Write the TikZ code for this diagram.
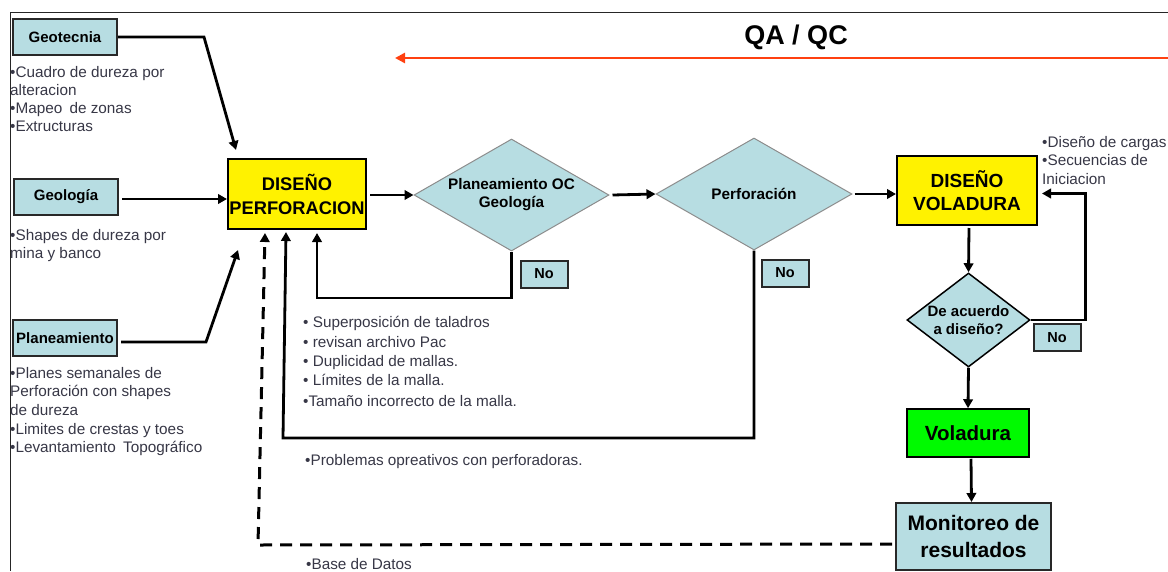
\documentclass[tikz,border=0pt]{standalone}
\usepackage{fontspec}
\setmainfont{Liberation Sans}
\usetikzlibrary{shapes.geometric,arrows.meta,calc}
\definecolor{boxblue}{RGB}{183,221,226}
\definecolor{qared}{RGB}{255,64,16}
\definecolor{listgray}{RGB}{55,55,70}
\definecolor{edgegray}{RGB}{140,140,140}
\definecolor{boxedge}{RGB}{40,40,40}
\definecolor{limegreen}{RGB}{0,250,0}

\begin{document}
\begin{tikzpicture}[x=1pt,y=-1pt,
  srcbox/.style={draw=boxedge, line width=2pt, fill=boxblue, minimum width=104pt,
    minimum height=36pt, inner sep=0pt, font=\fontsize{15}{18}\selectfont\bfseries},
  yellowbox/.style={draw=black, line width=2pt, fill=yellow, inner sep=0pt, align=center},
  decision/.style={diamond, draw=edgegray, line width=1pt, fill=boxblue, inner sep=0pt,
    align=center, font=\fontsize{15.3}{18}\selectfont\bfseries},
  nobox/.style={draw=boxedge, line width=2pt, fill=boxblue, minimum width=47pt,
    minimum height=27pt, inner sep=0pt, font=\fontsize{14.5}{17}\selectfont\bfseries},
  listtext/.style={font=\fontsize{15.3}{18}\selectfont, text=listgray, inner sep=0pt, anchor=base west},
  flow/.style={line width=2.8pt, -{Triangle[length=9pt,width=9.5pt]}},
  loopline/.style={line width=2.8pt, -{Triangle[length=9pt,width=9.5pt]}},
  feedback/.style={line width=3pt, dash pattern=on 12pt off 8pt, -{Triangle[length=9pt,width=9.5pt]}}
]
\useasboundingbox (0,0) rectangle (1168,571);

% outer frame
\draw[line width=1pt, black!85] (1168,12) -- (10,12) -- (10,571);

% QA / QC banner
\node[font=\fontsize{27}{30}\selectfont\bfseries, inner sep=0pt] (qaqc) at (796,37) {QA / QC};
\coordinate (qaright) at (1180,58);
\coordinate (qaleft) at (395,58);
\draw[qared, line width=2.8pt, {Triangle[length=10pt,width=10pt]}-{Triangle[length=10pt,width=10pt]}] (qaright) -- (qaleft);

% input boxes on the left
\node[srcbox] (geot) at (65,37) {Geotecnia};
\node[srcbox] (geol) at (66,197) {Geología};
\node[srcbox] (plan) at (65,338) {Planeamiento};

\foreach \t [count=\i] in {{•Cuadro de dureza por},{alteracion},{•Mapeo\hspace{3pt} de zonas},{•Extructuras}}
  \node[listtext, name=geotx\i] at (10,{77+18.3*(\i-1)}) {\t};
\foreach \t [count=\i] in {{•Shapes de dureza por},{mina y banco}}
  \node[listtext, name=geoltx\i] at (10,{240+18.5*(\i-1)}) {\t};
\foreach \t [count=\i] in {{•Planes semanales de},{Perforación con shapes},{de dureza},{•Limites de crestas y toes},{•Levantamiento\hspace{3pt} Topográfico}}
  \node[listtext, name=plantx\i] at (10,{378+18.7*(\i-1)}) {\t};

% main process
\node[yellowbox, minimum width=138pt, minimum height=70pt,
  font=\fontsize{18.3}{24}\selectfont\bfseries] (dp) at (297,194) {DISEÑO\\PERFORACION};
\node[decision, aspect=1.74, minimum width=195pt, minimum height=112pt] (d1) at (511.5,195) {Planeamiento OC\\Geología};
\node[decision, aspect=1.75, minimum width=196pt, minimum height=112pt] (d2) at (754,194) {Perforación};
\node[yellowbox, minimum width=140pt, minimum height=69pt,
  font=\fontsize{19}{23}\selectfont\bfseries] (dv) at (967,190.5) {DISEÑO\\VOLADURA};
\node[decision, draw=black, line width=1.5pt, aspect=1.31, minimum width=123pt, minimum height=94pt,
  font=\fontsize{15}{18}\selectfont\bfseries] (d3) at (968.5,320) {De acuerdo\\a diseño?};
\node[draw=black, line width=1.5pt, fill=limegreen, minimum width=122pt, minimum height=48pt, inner sep=0pt,
  font=\fontsize{20.5}{24}\selectfont\bfseries] (vol) at (968,433) {Voladura};
\node[draw=boxedge, line width=2pt, fill=boxblue, minimum width=155pt, minimum height=67pt, inner sep=0pt,
  align=center, font=\fontsize{21}{27}\selectfont\bfseries] (mon) at (973.5,536.5) {Monitoreo de\\resultados};

\node[nobox] (no1) at (544,274) {No};
\node[nobox] (no2) at (785,273) {No};
\node[nobox] (no3) at (1057,337.5) {No};

% notes
\foreach \yy/\t [count=\i] in {327/{• Superposición de taladros},347/{• revisan archivo Pac},366/{• Duplicidad de mallas.},385/{• Límites de la malla.},406/{•Tamaño incorrecto de la malla.}}
  \node[listtext, name=chk\i] at (303,\yy) {\t};
\node[listtext] (prob) at (305,465) {•Problemas opreativos con perforadoras.};
\node[listtext] (bdat) at (306,569) {•Base de Datos};
\foreach \t [count=\i] in {{•Diseño de cargas},{•Secuencias de},{Iniciacion}}
  \node[listtext, name=cargtx\i] at (1042,{147+18.5*(\i-1)}) {\t};

% inputs into the drilling design
\draw[flow] (geot.east) -- ++(86,0) -- ($(dp.north west)+(9,-8)$);
\draw[flow] ($(geol.east)+(3,2)$) -- ($(dp.west)+(0,5)$);
\draw[flow] ($(plan.east)+(3,4)$) -- ++(85,0) -- ($(dp.south west)+(11,20)$);

% forward flow
\draw[flow] ($(dp.east)+(3,1)$) -- (d1.west);
\draw[flow] ($(d1.east)+(3,0)$) -- (d2.west);
\draw[flow] ($(d2.east)+(2,0)$) -- (dv.west |- d2.east);
\draw[flow] ($(dv.south)+(2,2)$) -- (d3.north);
\draw[flow] (d3.south) -- (vol.north);
\draw[flow] ($(vol.south)+(3,1)$) -- ($(mon.north)+(-2,0)$);

% rejection loops
\draw[loopline] (d1.south) |- ($(dp.south)+(20,68)$) -- ($(dp.south)+(20,3)$);
\draw[loopline] (d2.south) |- ($(dp.south)+(-14,208)$) -- ($(dp.south)+(-11,2)$);
\draw[loopline] (d3.east) -- ++(55,0) |- ($(dv.east)+(4,3)$);

% database feedback
\draw[feedback] ($(mon.west)+(-3,7.5)$) -- ($(dp.south)+(-39,315)$) -- ($(dp.south)+(-32,3)$);
\end{tikzpicture}
\end{document}
